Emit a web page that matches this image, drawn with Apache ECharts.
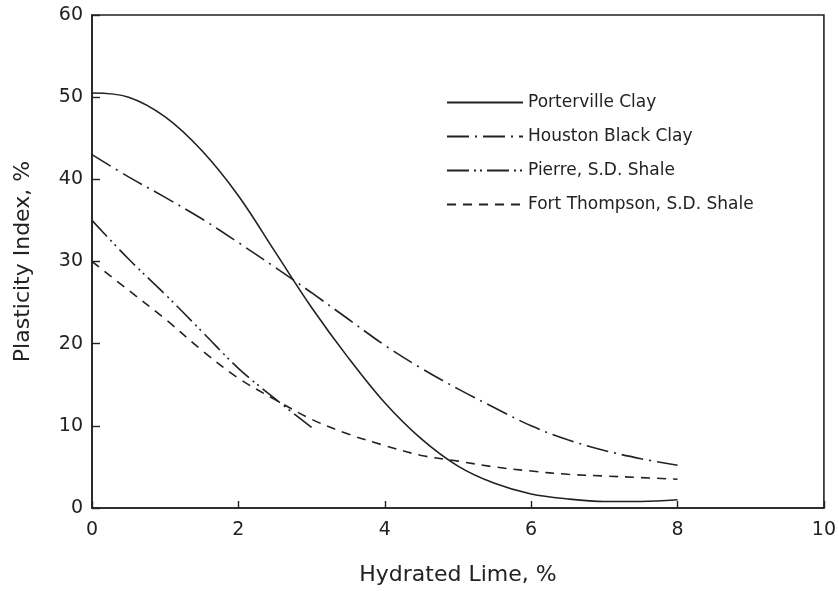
<!DOCTYPE html>
<html>
<head>
<meta charset="utf-8">
<script src="https://cdn.jsdelivr.net/npm/echarts@6/dist/echarts.min.js"></script>
<style>
  html, body { margin: 0; padding: 0; background: #fff; }
  #chart { width: 839px; height: 591px; }
</style>
</head>
<body>
<div id="chart"></div>
<script>
// Hydrated lime content, %
const porterX = [0, 0.5, 1, 1.5, 2, 2.5, 3, 3.5, 4, 4.5, 5, 5.5, 6, 6.5, 7, 7.5, 8];
const porterY = [50.5, 50, 47.6, 43.5, 38, 31.2, 24.4, 18.3, 12.8, 8.4, 5.1, 3, 1.7, 1.1, 0.8, 0.8, 1.0];

const houstonX = [0, 0.5, 1, 1.5, 2, 2.5, 3, 3.5, 4, 4.5, 5, 5.5, 6, 6.5, 7, 7.5, 8];
const houstonY = [43, 40.3, 37.8, 35.2, 32.3, 29.3, 26.2, 23, 19.8, 17, 14.5, 12.2, 10, 8.3, 7, 6, 5.2];

const pierreX = [0, 0.5, 1, 1.5, 2, 2.5, 3];
const pierreY = [35, 30.3, 26, 21.5, 17, 13.3, 9.8];

const fortX = [0, 0.5, 1, 1.5, 2, 2.5, 3, 3.5, 4, 4.5, 5, 5.5, 6, 6.5, 7, 7.5, 8];
const fortY = [30, 26.5, 23, 19.2, 15.8, 13.2, 10.8, 9, 7.6, 6.4, 5.7, 5, 4.5, 4.1, 3.9, 3.7, 3.5];

const names = ["Porterville Clay", "Houston Black Clay", "Pierre, S.D. Shale", "Fort Thompson, S.D. Shale"];

const ink = "#222";
const font = "DejaVu Sans";

const zip = (xs, ys) => xs.map((x, i) => [x, ys[i]]);

const makeSeries = (name, data, dash) => ({
  name: name,
  type: "line",
  data: data,
  smooth: 0.35,
  symbol: "none",
  lineStyle: { color: ink, width: 1.6, type: dash },
  itemStyle: { color: ink },
});

const chart = echarts.init(document.getElementById("chart"));

chart.setOption({
  animation: false,
  backgroundColor: "#fff",
  grid: {
    left: 92,
    right: 10,
    top: 15,
    bottom: 74,
    show: true,
    borderColor: ink,
    borderWidth: 1.6,
  },
  legend: {
    orient: "vertical",
    left: 441,
    top: 89,
    itemWidth: 76,
    itemHeight: 14,
    itemGap: 17,
    data: names,
    itemStyle: { opacity: 0 },
    textStyle: { fontFamily: font, fontSize: 17, color: ink },
  },
  xAxis: {
    type: "value",
    min: 0,
    max: 10,
    interval: 2,
    name: "Hydrated Lime, %",
    nameLocation: "middle",
    nameGap: 56,
    nameTextStyle: { fontFamily: font, fontSize: 22, color: ink },
    axisLine: { lineStyle: { color: ink, width: 1.6 } },
    axisTick: { inside: true, length: 7, lineStyle: { color: ink, width: 1.4 } },
    axisLabel: { fontFamily: font, fontSize: 19, color: ink, margin: 13 },
    splitLine: { show: false },
  },
  yAxis: {
    type: "value",
    min: 0,
    max: 60,
    interval: 10,
    name: "Plasticity Index, %",
    nameLocation: "middle",
    nameGap: 58,
    nameTextStyle: { fontFamily: font, fontSize: 22, color: ink },
    axisLine: { show: true, lineStyle: { color: ink, width: 1.6 } },
    axisTick: { show: true, inside: true, length: 8, lineStyle: { color: ink, width: 1.4 } },
    axisLabel: { fontFamily: font, fontSize: 19, color: ink, margin: 9 },
    splitLine: { show: false },
  },
  series: [
    makeSeries(names[0], zip(porterX, porterY), "solid"),
    makeSeries(names[1], zip(houstonX, houstonY), [22, 6, 2, 6]),
    makeSeries(names[2], zip(pierreX, pierreY), [22, 5, 2, 4, 2, 5]),
    makeSeries(names[3], zip(fortX, fortY), [9, 7]),
  ],
});
</script>
</body>
</html>
